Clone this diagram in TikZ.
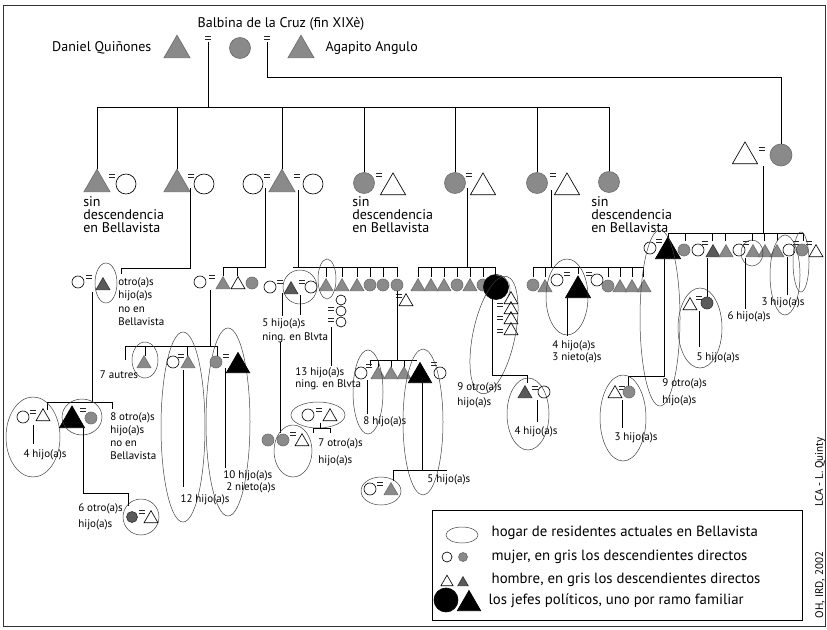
\documentclass[tikz,border=0pt]{standalone}
\usepackage{fontspec}
\setmainfont{PT Sans}
\usetikzlibrary{shapes.geometric}
\definecolor{descgray}{RGB}{138,138,138}
\definecolor{hatchgray}{RGB}{90,90,90}

\begin{document}
\begin{tikzpicture}[x=1pt, y=-1pt, line width=0.65pt,
    tri/.style={regular polygon, regular polygon sides=3, draw, inner sep=0pt, minimum size=30pt, anchor=side 2},
    stri/.style={regular polygon, regular polygon sides=3, draw, inner sep=0pt, minimum size=16pt, anchor=side 2},
    cir/.style={circle, draw, inner sep=0pt, minimum size=21pt},
    scir/.style={circle, draw, inner sep=0pt, minimum size=12pt},
    desc/.style={fill=descgray, draw=descgray!80!black},
    hatch/.style={fill=hatchgray, draw=black!80},
    jefe/.style={fill=black, draw=black},
    eqs/.pic={\draw[line width=0.6pt, black!85] (-3,-1.6) -- (3,-1.6) (-3,1.6) -- (3,1.6);},
    hogar/.style={draw=black!75, line width=0.5pt},
    big/.style={font=\fontsize{14}{13}\selectfont, align=left, anchor=north west, inner sep=0pt},
    small/.style={font=\fontsize{11}{13}\selectfont, align=left, anchor=north west, inner sep=0pt},
    lab/.style={font=\fontsize{11}{13}\selectfont, inner sep=0pt},
]
\useasboundingbox (0,0) rectangle (827,629);
% frame
\draw[line width=0.8pt, black!80] (3,5) rectangle (825,626);

% first generation
\node[font=\fontsize{14}{14}\selectfont] (balbina) at (281,24) {Balbina de la Cruz (fin XIXè)};
\node[font=\fontsize{14}{14}\selectfont, anchor=east] (danielname) at (155,48) {Daniel Quiñones};
\node[tri, desc] (daniel) at (177,58) {};
\pic at (208,38) {eqs};
\node[cir, desc] (bc) at (240,48) {};
\pic at (267,38) {eqs};
\node[tri, desc] (agapito) at (301,58) {};
\node[font=\fontsize{14}{14}\selectfont, anchor=west] (agapitoname) at (322,48) {Agapito Angulo};
\coordinate (m1) at (208,42);
\coordinate (m2) at (267,42);
\draw (m1) -- (208,107);
\draw (98,107) -- (609,107);

% second generation
\node[tri, desc] (c1) at (97,192) {};
\pic at (112,176) {eqs};
\node[cir, minimum size=20pt] (s1) at (126,184) {};
\node[tri, desc] (c2) at (177,192) {};
\pic at (191,176) {eqs};
\node[cir, minimum size=20pt] (s2) at (204,184) {};
\node[cir, minimum size=20pt] (s3a) at (253,184) {};
\pic at (267,176) {eqs};
\node[tri, desc] (c3) at (282,192) {};
\pic at (297,176) {eqs};
\node[cir, minimum size=20pt] (s3b) at (313,184) {};
\node[cir, desc] (c4) at (364,183) {};
\pic at (379,175) {eqs};
\node[tri, minimum size=29pt] (s4) at (393,195) {};
\node[cir, desc] (c5) at (455,183) {};
\pic at (469,175) {eqs};
\node[tri, minimum size=29pt] (s5) at (483,195) {};
\node[cir, desc] (c6) at (537,183) {};
\pic at (553,175) {eqs};
\node[tri, minimum size=29pt] (s6) at (567,195) {};
\node[cir, desc] (c7) at (609,182) {};
\foreach \n in {c1,c2,c3,c4,c5,c6,c7}
  \draw (\n.north) -- (\n.north |- 0,107);

\node[big] (sd1) at (83,196) {sin\\descendencia\\en Bellavista};
\node[big] (sd4) at (352,196) {sin\\descendencia\\en Bellavista};
\node[big] (sd7) at (591,196) {sin\\descendencia\\en Bellavista};

% Agapito Angulo branch
\node[tri, minimum size=29pt] (pt) at (745,164) {};
\pic at (762,149) {eqs};
\node[cir, desc, minimum size=22pt] (pc) at (781,155) {};
\draw (m2) |- (781,77) -- (pc.north);

% family of c2
\draw (190,188) -- (190,268) -- (121,268) -- (121,274);
\node[scir] (a1) at (78,282) {};
\pic at (89,277) {eqs};
\node[stri, hatch] (a2) at (103,290) {};
\draw[hogar] (106,283) ellipse [x radius=11pt, y radius=20pt];
\node[small, font=\fontsize{11}{13.5}\selectfont] (a3) at (118,277) {otro(a)s\\hijo(a)s\\no en\\Bellavista};
\draw (92,292) -- (92,402);
\draw (47,410) -- (47,402) -- (112,402) -- (112,409);
\draw[hogar] (33,437) ellipse [x radius=27pt, y radius=40pt];
\node[scir] (a4) at (23,417) {};
\pic at (33,412) {eqs};
\node[stri] (a5) at (43,421) {};
\draw (33,425) -- (33,444);
\node[lab] (a6) at (45,455) {4 hijo(a)s};
\node[tri, jefe, minimum size=29pt] (a7) at (72,428) {};
\pic at (83,410) {eqs};
\node[scir, desc] (a8) at (91,418) {};
\draw[hogar] (82,417) ellipse [x radius=20pt, y radius=18pt];
\node[small] (a9) at (110,412) {8 otro(a)s\\hijo(a)s\\no en\\Bellavista};
\draw (83,428) -- (83,493) -- (128,493) -- (128,506);
\draw[hogar] (141,517) ellipse [x radius=18pt, y radius=18pt];
\node[scir, hatch, minimum size=11pt] (a10) at (132,517) {};
\pic at (142,512) {eqs};
\node[stri] (a11) at (151,523) {};
\node[small, font=\fontsize{11}{16}\selectfont] (a12) at (78,503) {6 otro(a)s\\hijo(a)s};

% family of c3, first marriage
\draw (265,188) -- (265,267) -- (223,267) -- (223,276);
\draw (237,267) -- (237,276);
\node[scir] (b1) at (200,282) {};
\pic at (212,277) {eqs};
\node[stri, desc] (b2) at (223,289) {};
\node[stri] (b3) at (238,289) {};
\node[scir, desc] (b4) at (252,283) {};
\draw (210,290) -- (210,346);
\draw (125,360) -- (125,346) -- (217,346) -- (217,356);
\draw (145,346) -- (145,356);
\draw (187,346) -- (187,356);
\draw[hogar] (145,360) ellipse [x radius=13pt, y radius=18pt];
\node[stri, desc] (b5) at (144,368) {};
\node[lab] (b6) at (119,375) {7 autres};
\draw[hogar] (183,427) ellipse [x radius=22pt, y radius=95pt];
\node[scir] (b7) at (173,362) {};
\pic at (181,356) {eqs};
\node[stri, desc] (b8) at (188,368) {};
\draw (183,370) -- (183,487);
\node[lab] (b9) at (205,500) {12 hijo(a)s};
\draw[hogar] (228,422) ellipse [x radius=22pt, y radius=94pt];
\node[scir, desc] (b10) at (216,362) {};
\pic at (226,356) {eqs};
\node[tri, jefe, minimum size=27pt] (b11) at (238,373) {};
\draw (225,368) -- (225,468);
\node[small, font=\fontsize{11}{12}\selectfont] (b12) at (223,470) {10 hijo(a)s\\\ 2 nieto(a)s};

% family of c3, second marriage
\draw (298,190) -- (298,267);
\draw (293,267) -- (398,267);
\node[scir] (d1) at (270,287) {};
\pic at (280,282) {eqs};
\node[stri, hatch] (d2) at (291,294) {};
\pic at (302,282) {eqs};
\node[scir] (d3) at (311,287) {};
\draw[hogar] (300,287) circle [radius=17pt];
\foreach \x in {326,342,357}
  \node[stri, desc] at (\x,291) {};
\foreach \x in {370,383,397}
  \node[scir, desc] at (\x,285) {};
\foreach \x in {326,342,357,370,383,397}
  \draw (\x,267) -- (\x,277);
\draw[hogar] (327,279) ellipse [x radius=9pt, y radius=20pt];
\foreach \y in {300,311,322}
  \node[scir, minimum size=10pt] at (341,\y) {};
\pic at (331,309) {eqs};
\pic at (331,320) {eqs};
\draw (300,295) -- (300,315);
\node[small, font=\fontsize{11}{14}\selectfont] (d4) at (262,318) {5 hijo(a)s\\ning. en Blvta};
\draw (282,293) -- (282,316);
\draw (280,342) -- (280,433);
\draw (331,327) -- (331,366);
\node[small, font=\fontsize{11}{12}\selectfont] (d5) at (295,367) {13 hijo(a)s\\ning. en Blvta};
\node[scir, desc] (d6) at (268,440) {};
\node[scir, desc] (d7) at (283,440) {};
\pic at (293,434) {eqs};
\node[stri] (d8) at (302,446) {};
\draw[hogar] (293,451) ellipse [x radius=19pt, y radius=26pt];
\node[small, font=\fontsize{11}{17}\selectfont] (d9) at (318,438) {7 otro(a)s\\hijo(a)s};
\draw[hogar] (318,415) ellipse [x radius=27pt, y radius=13pt];
\node[scir] (d10) at (308,415) {};
\pic at (319,410) {eqs};
\node[stri] (d11) at (330,421) {};
\draw (320,423) -- (320,428);
\draw (313,433) -- (313,428) -- (330,428) -- (330,433);

% family of c5
\draw (467,188) -- (467,267);
\draw (418,267) -- (495,267);
\foreach \x in {418,431,444,457,470,483}
  \draw (\x,267) -- (\x,277);
\draw (495,267) -- (495,276);
\foreach \x in {418,431,444}
  \node[stri, desc] at (\x,291) {};
\node[scir, desc] at (457,285) {};
\node[stri, desc] at (470,291) {};
\node[scir, desc] at (483,285) {};
\node[circle, jefe, minimum size=25pt] (f1) at (496,287) {};
\draw[descgray] (496,275) arc[start angle=90, end angle=-30, x radius=14pt, y radius=14pt];
\foreach \y in {304,314,324,335}
  \node[stri] at (511,\y) {};
\foreach \y in {305,318,331}
  \pic at (500,\y) {eqs};
\draw[hogar, rotate around={-12:(494,335)}] (494,335) ellipse [x radius=21pt, y radius=60pt];
\pic at (399,296) {eqs};
\node[stri] (f2) at (406,306) {};
\draw (397,291) -- (397,360);
\draw (492,299) -- (492,375) -- (527,375) -- (527,383);
\node[small, font=\fontsize{11}{15}\selectfont] (f3) at (457,382) {9 otro(a)s\\hijo(a)s};
\draw[hogar] (528,414) ellipse [x radius=21pt, y radius=36pt];
\node[stri, hatch] (f4) at (525,398) {};
\pic at (535,388) {eqs};
\node[scir] (f5) at (544,392) {};
\draw (537,400) -- (537,422);
\node[lab] (f6) at (536,432) {4 hijo(a)s};

% family under the white triangle
\draw (370,366) -- (370,360) -- (417,360);
\foreach \x in {378,391,404}
  \draw (\x,360) -- (\x,367);
\node[scir] (g1) at (361,373) {};
\pic at (369,366) {eqs};
\foreach \x in {378,391,404}
  \node[stri, desc] at (\x,379) {};
\node[tri, jefe, minimum size=27pt] (g2) at (420,383) {};
\pic at (434,364) {eqs};
\node[scir] (g3) at (440,373) {};
\draw[hogar] (368,392) ellipse [x radius=15pt, y radius=42pt];
\draw (367,380) -- (367,414);
\node[lab, anchor=west] (g4) at (363,422) {8 hijo(a)s};
\draw[hogar] (423,422) ellipse [x radius=20pt, y radius=73pt];
\draw (422,383) -- (422,470);
\draw (393,481) -- (393,470) -- (447,470);
\node[lab, anchor=west] (g5) at (427,480) {5 hijo(a)s};
\draw[hogar] (381,491) ellipse [x radius=20pt, y radius=14pt];
\node[scir] (g6) at (370,489) {};
\pic at (380,484) {eqs};
\node[stri, desc] (g7) at (391,495) {};

% family of c6
\draw (551,190) -- (551,267);
\draw (533,267) -- (643,267);
\foreach \x in {533,545,608,620,632,643}
  \draw (\x,267) -- (\x,277);
\draw (578,267) -- (578,274);
\node[scir, desc] at (533,285) {};
\node[stri, desc] at (545,292) {};
\node[scir] (h1) at (557,280) {};
\pic at (567,274) {eqs};
\node[tri, jefe, minimum size=29pt] (h2) at (578,298) {};
\pic at (589,274) {eqs};
\node[scir] (h3) at (597,280) {};
\node[scir, desc] at (608,286) {};
\foreach \x in {620,632,644}
  \node[stri, desc] at (\x,292) {};
\draw[hogar] (567,297) ellipse [x radius=21pt, y radius=38pt];
\draw (567,298) -- (567,336);
\node[small, font=\fontsize{11}{12}\selectfont] (h4) at (552,340) {4 hijo(a)s\\3 nieto(a)s};

% family of Agapito Angulo's daughter
\draw (763,166) -- (763,233);
\draw (668,233) -- (803,233);
\foreach \x in {668,685,712,725,752,764,777,803}
  \draw (\x,233) -- (\x,241);
\node[scir] (k1) at (650,248) {};
\pic at (659,241) {eqs};
\node[tri, jefe, minimum size=29pt] (k2) at (668,259) {};
\node[scir, desc] at (684,250) {};
\node[scir] at (698,250) {};
\pic at (705,243) {eqs};
\node[stri, hatch] at (713,257) {};
\node[stri, desc] at (726,257) {};
\node[scir] at (739,250) {};
\pic at (746,243) {eqs};
\foreach \x in {753,765,777}
  \node[stri, desc] at (\x,257) {};
\node[scir] at (789,250) {};
\pic at (796,243) {eqs};
\node[scir, desc] at (802,250) {};
\pic at (809,243) {eqs};
\node[stri] at (816,257) {};
\draw[hogar] (660,318) ellipse [x radius=20pt, y radius=88pt];
\draw[hogar] (752,253) ellipse [x radius=11pt, y radius=13pt];
\draw[hogar] (785,275) ellipse [x radius=15pt, y radius=40pt];
\draw[hogar] (801,262) ellipse [x radius=8pt, y radius=30pt];
\draw (787,257) -- (787,295);
\node[lab] (k3) at (783,303) {3 hijo(a)s};
\draw (745,258) -- (745,309);
\node[lab] (k4) at (749,317) {6 hijo(a)s};
\draw (707,258) -- (707,297);
\draw[hogar] (700,328) ellipse [x radius=22pt, y radius=40pt];
\node[stri] (k5) at (690,310) {};
\pic at (699,298) {eqs};
\node[scir, hatch] (k6) at (707,303) {};
\draw (699,311) -- (699,347);
\node[lab] (k7) at (718,358) {5 hijo(a)s};
\draw (664,259) -- (664,376) -- (628,376) -- (628,386);
\draw[hogar] (623,418) ellipse [x radius=23pt, y radius=43pt];
\node[stri] (k8) at (615,398) {};
\pic at (622,388) {eqs};
\node[scir, desc] (k9) at (629,392) {};
\draw (622,400) -- (622,428);
\node[lab] (k10) at (636,438) {3 hijo(a)s};
\node[small, font=\fontsize{11}{17}\selectfont] (k11) at (662,378) {9 otro(a)s\\hijo(a)s};

% credits
\node[rotate=90, font=\fontsize{11}{11}\selectfont] (credit1) at (820,472) {LCA - L. Quinty};
\node[rotate=90, font=\fontsize{11}{11}\selectfont] (credit2) at (820,585) {OH, IRD, 2002};

% legend
\draw[line width=0.8pt] (432,510) rectangle (802,620);
\draw[hogar] (462,535) ellipse [x radius=16pt, y radius=8pt];
\node[scir, minimum size=10pt] (l1) at (447,557) {};
\node[scir, desc, minimum size=9pt] (l2) at (463,557) {};
\node[stri, minimum size=14pt] (l3) at (447,586) {};
\node[stri, hatch, minimum size=12pt] (l4) at (463,586) {};
\node[circle, jefe, minimum size=24pt] (l5) at (446,600) {};
\node[tri, jefe, minimum size=27pt] (l6) at (469,611) {};
\node[font=\fontsize{14.8}{15}\selectfont, anchor=west] (t1) at (488,533) {hogar de residentes actuales en Bellavista};
\node[font=\fontsize{14.8}{15}\selectfont, anchor=west] (t2) at (488,557) {mujer, en gris los descendientes directos};
\node[font=\fontsize{14.8}{15}\selectfont, anchor=west] (t3) at (488,580) {hombre, en gris los descendientes directos};
\node[font=\fontsize{14.8}{15}\selectfont, anchor=west] (t4) at (485,601) {los jefes políticos, uno por ramo familiar};
\end{tikzpicture}
\end{document}
